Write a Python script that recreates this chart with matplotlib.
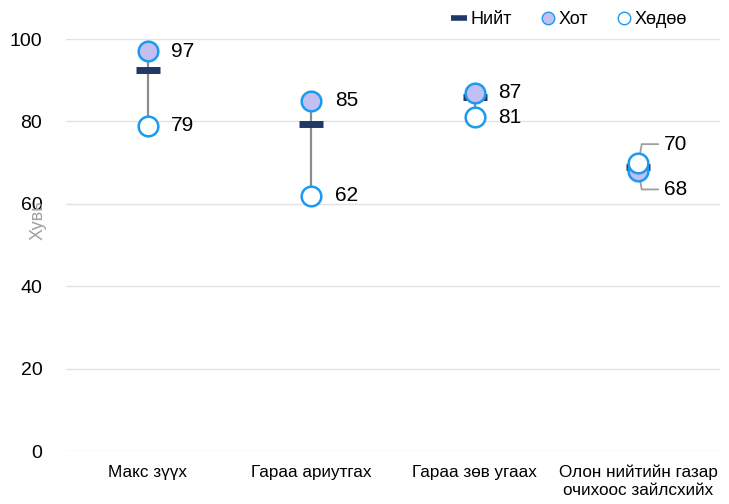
import matplotlib.pyplot as plt
from matplotlib.lines import Line2D

categories = ["Макс зүүх", "Гараа ариутгах", "Гараа зөв угаах", "Олон нийтийн газар\nочихоос зайлсхийх"]
niit = [92.5, 79.5, 86, 69]
khot = [97, 85, 87, 68]
khuduu = [79, 62, 81, 70]

plt.rcParams['font.family'] = ['Liberation Sans', 'DejaVu Sans']

fig = plt.figure(figsize=(7.29, 5.04), dpi=100)
ax = fig.add_axes([0.0905, 0.105, 0.8975, 0.8175])

x = list(range(len(categories)))
blue = '#1a9bf0'

# connecting lines between Хот and Хөдөө
ax.vlines(x, khuduu, khot, color='#8c8c8c', lw=1.6, zorder=2)
ax.scatter(x, niit, marker='_', s=280, color='#1f3864', linewidths=5, zorder=3)
ax.scatter(x, khot, s=200, color='#c3bff2', edgecolors=blue, linewidths=1.8, zorder=4)
ax.scatter(x, khuduu, s=200, color='white', edgecolors=blue, linewidths=1.8, zorder=5)

for i in x[:3]:
    ax.annotate(f"{khot[i]}", (i, khot[i]), xytext=(17, 0), textcoords='offset points',
                va='center', fontsize=15)
    ax.annotate(f"{khuduu[i]}", (i, khuduu[i]), xytext=(17, 0), textcoords='offset points',
                va='center', fontsize=15)

# last category: labels with leader lines
i = 3
ax.annotate(f"{khuduu[i]}", (i, khuduu[i]), xytext=(i + 0.155, khuduu[i] + 4.5), va='center',
            fontsize=15, arrowprops=dict(arrowstyle='-', color='#a0a0a0', lw=1.3,
                                         connectionstyle='angle,angleA=0,angleB=80,rad=0',
                                         shrinkA=2, shrinkB=0))
ax.annotate(f"{khot[i]}", (i, khot[i]), xytext=(i + 0.155, khot[i] - 4.5), va='center',
            fontsize=15, arrowprops=dict(arrowstyle='-', color='#a0a0a0', lw=1.3,
                                         connectionstyle='angle,angleA=0,angleB=-80,rad=0',
                                         shrinkA=2, shrinkB=0))

ax.set_xlim(-0.5, 3.5)
ax.set_ylim(0, 100)
ax.set_yticks([0, 20, 40, 60, 80, 100])
ax.set_xticks(x)
ax.set_xticklabels(categories, fontsize=12.3, linespacing=1.25)
ax.tick_params(axis='y', labelsize=14, length=0, pad=17)
ax.tick_params(axis='x', length=0, pad=10)
ax.grid(axis='y', color='#e2e2e2', lw=1)
ax.set_axisbelow(True)
for s in ax.spines.values():
    s.set_visible(False)
ax.set_ylabel("Хувь", color='#a0a0a0', fontsize=13)
ax.yaxis.set_label_coords(-0.03, 0.56)

handles = [
    Line2D([], [], marker='_', color='#1f3864', ls='none', markersize=12, markeredgewidth=4),
    Line2D([], [], marker='o', ls='none', markerfacecolor='#c3bff2', markeredgecolor=blue, markersize=9),
    Line2D([], [], marker='o', ls='none', markerfacecolor='white', markeredgecolor=blue, markersize=9),
]
fig.legend(handles, ["Нийт", "Хот", "Хөдөө"], loc='upper right', bbox_to_anchor=(0.965, 1.01),
           ncol=3, frameon=False, fontsize=13, handlelength=0.8, handletextpad=0.2, columnspacing=1.6)

fig.savefig("out.png", dpi=100)
